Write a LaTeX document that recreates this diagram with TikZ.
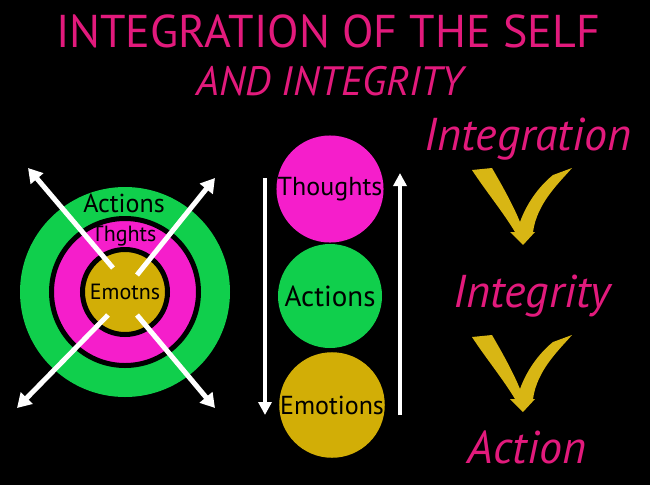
\documentclass[tikz,border=0pt]{standalone}
\usepackage{fontspec}
\setmainfont{PT Sans}
\usetikzlibrary{arrows.meta}
\definecolor{titlepink}{HTML}{E21A7C}
\definecolor{ballpink}{HTML}{F51ECB}
\definecolor{ballgreen}{HTML}{10CF4C}
\definecolor{ballgold}{HTML}{D2AE06}
\definecolor{vgold}{HTML}{D8B614}

\begin{document}
\begin{tikzpicture}[x=1pt,y=-1pt,
	ball/.style={circle, inner sep=0pt, minimum size=104pt, font=\fontsize{26}{26}\selectfont},
	ring/.style={circle, inner sep=0pt, draw=black, line width=5pt},
	burst/.style={white, line width=5pt, -{Triangle[length=14pt,width=16pt]}},
	flow/.style={white, line width=4pt, -{Triangle[length=13pt,width=13pt]}},
	pinkword/.style={titlepink, anchor=base, font=\itshape\fontsize{46}{46}\selectfont}]

		% Black page
		\fill[black] (0,0) rectangle (650,485);
		\useasboundingbox (0,0) rectangle (650,485);

		% Title
		\node[titlepink, anchor=base, font=\fontsize{46}{46}\selectfont] (title) at (328,47) {INTEGRATION OF THE SELF};
		\node[titlepink, anchor=base, font=\itshape\fontsize{41}{41}\selectfont] (subtitle) at (330,95) {AND INTEGRITY};

		% Concentric circles on the left
		\node[circle, fill=ballgreen, minimum size=210pt] (outer) at (125,292) {};
		\node[ring, fill=ballpink, minimum size=147pt] (mid) at (125,292) {};
		\node[ring, fill=ballgold, minimum size=85pt, font=\fontsize{22}{22}\selectfont] (core) at (125,292) {Emotns};
		\node[anchor=base, font=\fontsize{26}{26}\selectfont] (acts) at (124,212) {Actions};
		\node[anchor=base, font=\fontsize{22}{22}\selectfont] (thts) at (124,241) {Thghts};

		% Arrows going outward
		\coordinate (ulin) at (113,268);
		\coordinate (ulout) at (28,168);
		\coordinate (urin) at (137,275);
		\coordinate (urout) at (215,178);
		\coordinate (llin) at (108,315);
		\coordinate (llout) at (17,408);
		\coordinate (lrin) at (137,315);
		\coordinate (lrout) at (215,408);
		\draw[burst] (ulin) -- (ulout);
		\draw[burst] (urin) -- (urout);
		\draw[burst] (llin) -- (llout);
		\draw[burst] (lrin) -- (lrout);

		% Stack of three circles
		\node[ball, fill=ballpink] (thoughts) at (330,189) {Thoughts};
		\node[ball, fill=ballgreen, font=\fontsize{29}{29}\selectfont] (actions) at (330,296) {Actions};
		\node[ball, fill=ballgold] (emotions) at (332,405) {Emotions};

		% Arrows down and up beside the stack
		\coordinate (dtop) at (265,178);
		\coordinate (dbot) at (265,415);
		\coordinate (ubot) at (400,415);
		\coordinate (utop) at (400,173);
		\draw[flow] (dtop) -- (dbot);
		\draw[flow] (ubot) -- (utop);

		% Words on the right
		\node[pinkword] (integration) at (528,150) {Integration};
		\node[pinkword] (integrity) at (532,307) {Integrity};
		\node[pinkword] (action) at (527,463) {Action};

		% Gold bent arrows between the words
		\foreach \ty in {245,412} {
			\begin{scope}[shift={(523,\ty)}]
				\fill[vgold] (-51,-75) -- (-31,-77) .. controls (-20,-58) and (-10,-40) .. (-3,-23)
					.. controls (3,-40) and (15,-58) .. (30,-70) -- (49,-77)
					.. controls (36,-62) and (14,-42) .. (10,-13) -- (12,-13) -- (0,0) -- (-13,-13) -- (-8,-13)
					.. controls (-20,-33) and (-38,-55) .. cycle;
			\end{scope}
		}
	\end{tikzpicture}
\end{document}
